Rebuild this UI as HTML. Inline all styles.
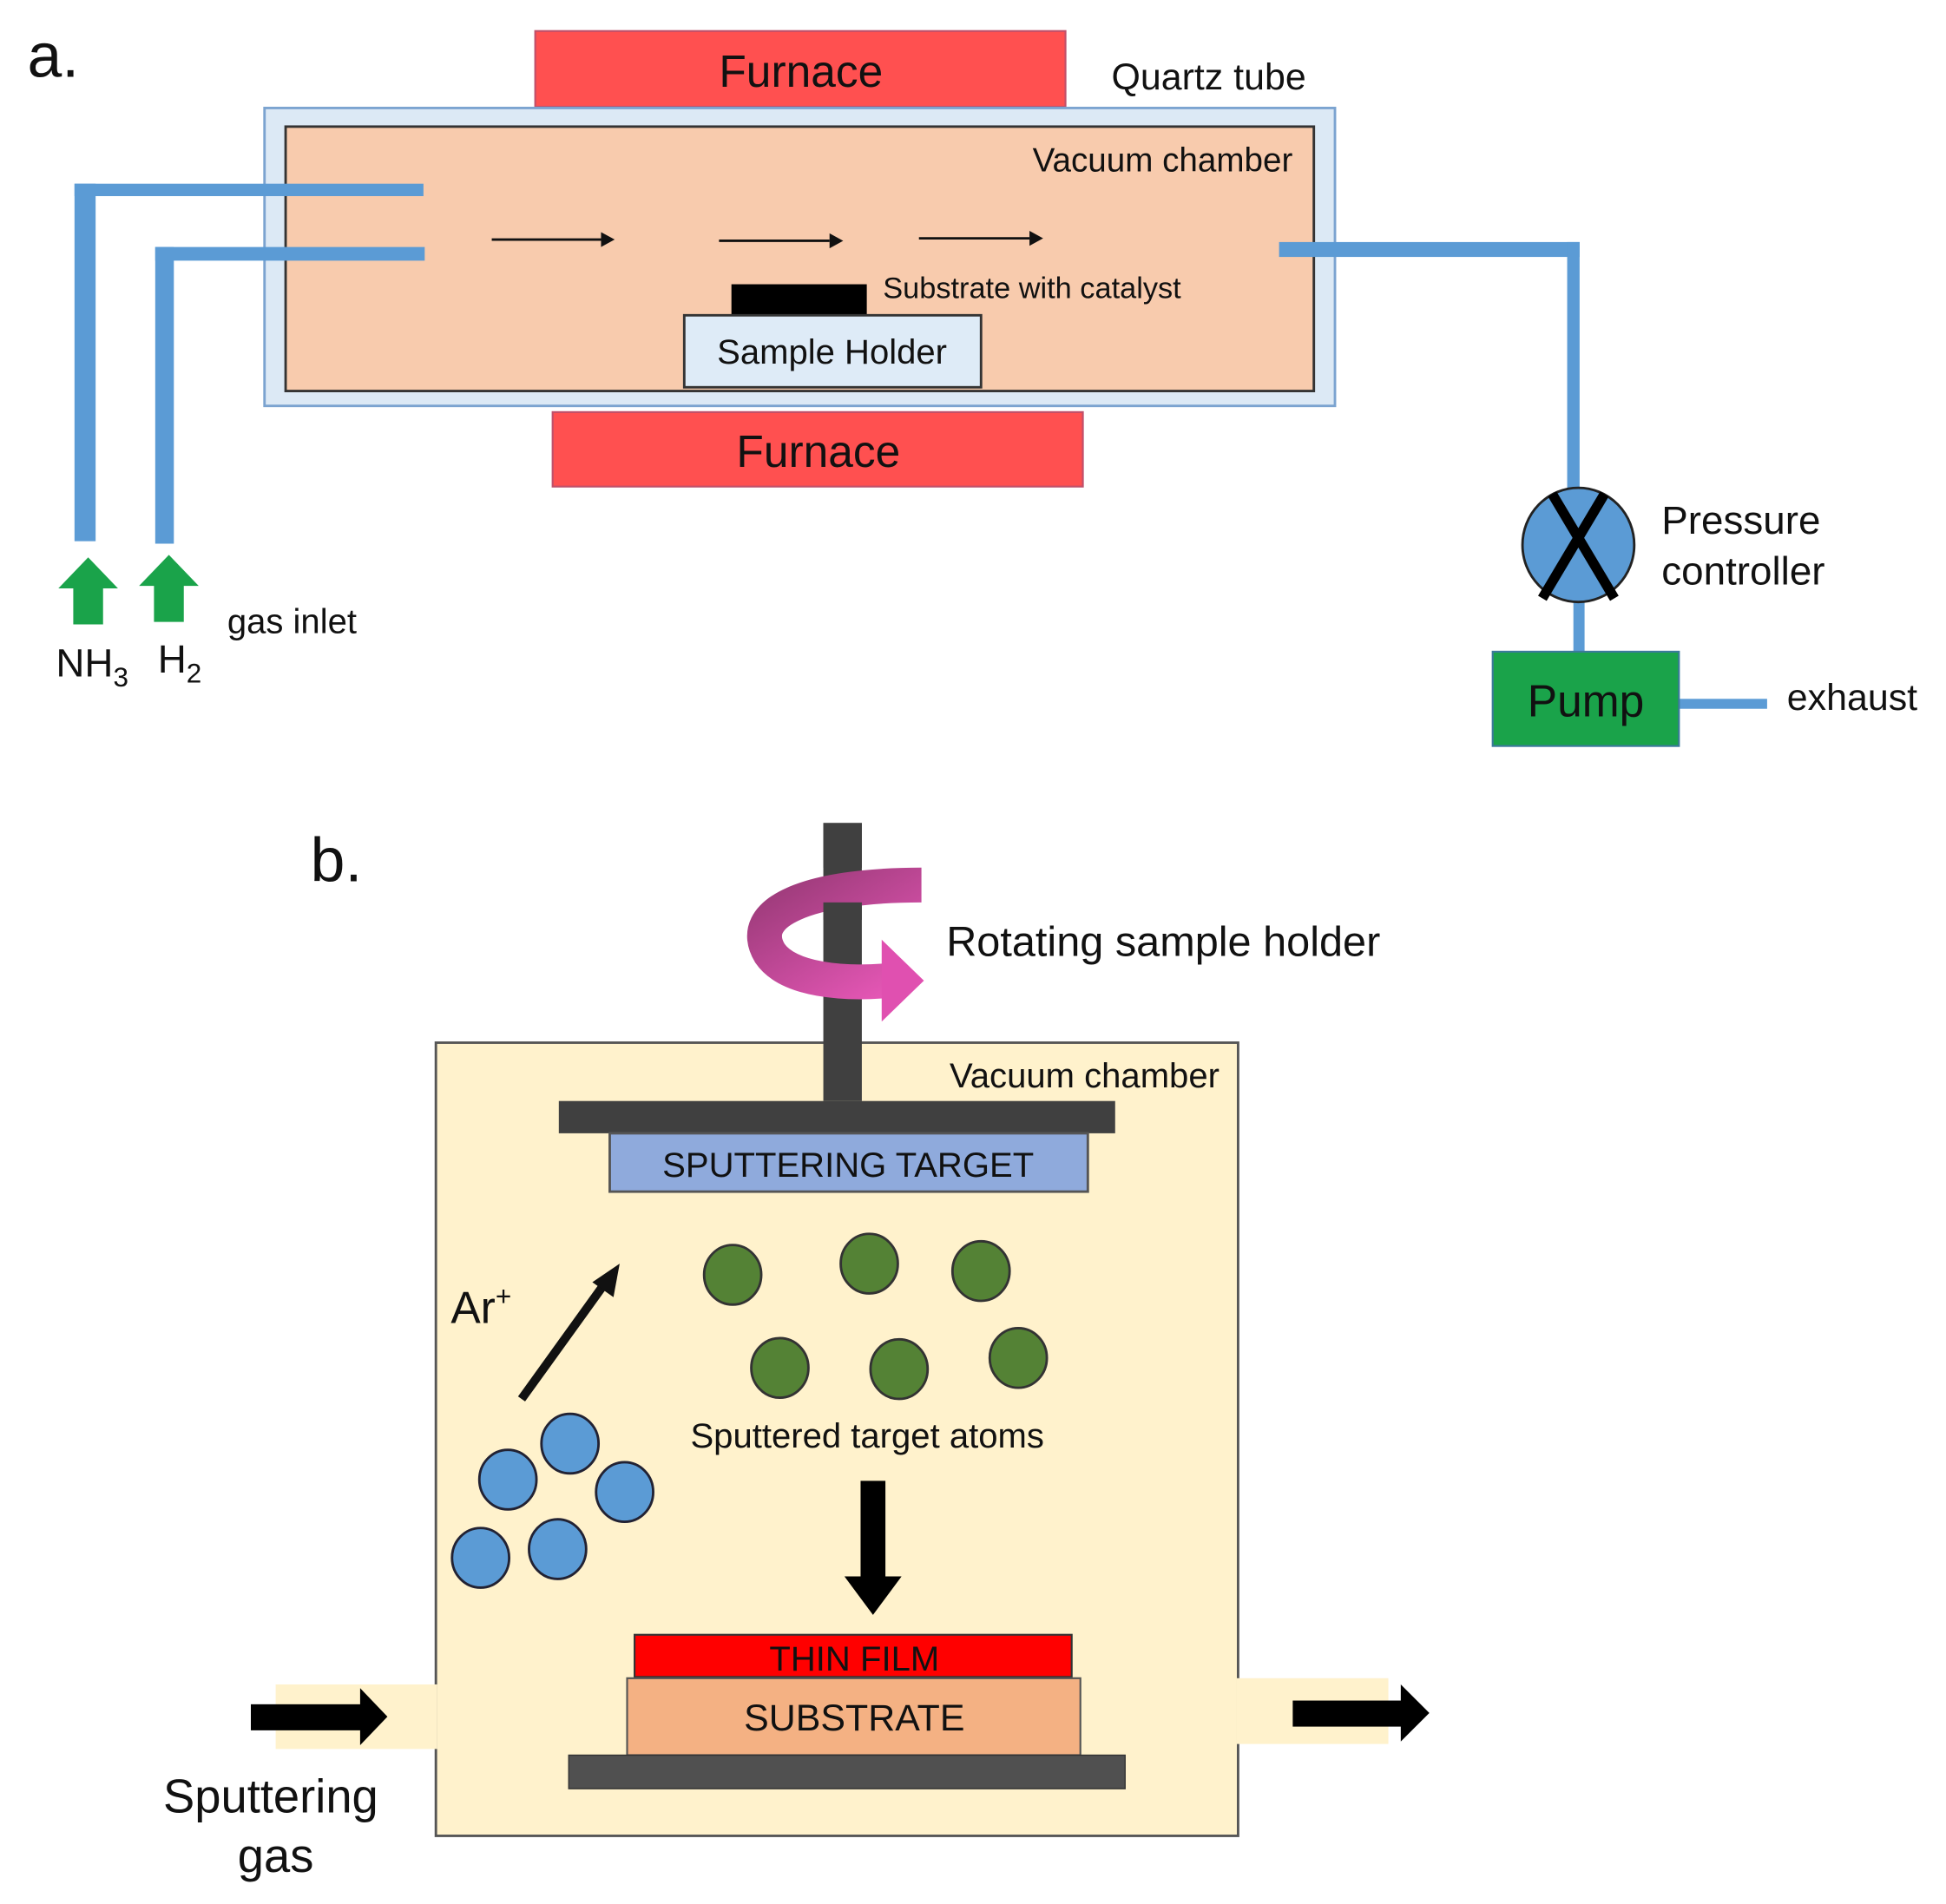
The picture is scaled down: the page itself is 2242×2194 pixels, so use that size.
<!DOCTYPE html>
<html><head><meta charset="utf-8"><style>
html,body{margin:0;padding:0;background:#fff;}
svg{display:block;}
text{font-family:"Liberation Sans",Arial,sans-serif;fill:#111;}
</style></head><body>
<svg width="2242" height="2194" viewBox="0 0 1560 1527" preserveAspectRatio="none" xmlns="http://www.w3.org/2000/svg">
<defs>
<linearGradient id="pk" x1="0" y1="0" x2="1" y2="1">
<stop offset="0" stop-color="#9a3a78"/><stop offset="1" stop-color="#e858b8"/>
</linearGradient>
</defs>
<g transform="scale(0.9955)">
<!-- a -->
<text x="22" y="62" font-size="50">a.</text>
<rect x="431" y="25" width="427" height="61" fill="#ff5050" stroke="#c0506a" stroke-width="1.5"/>
<text x="645" y="70" font-size="36" text-anchor="middle">Furnace</text>
<text x="895" y="72" font-size="30">Quartz tube</text>
<rect x="213" y="87" width="862" height="240" fill="#dce9f5" stroke="#7ba3d0" stroke-width="2"/>
<rect x="230" y="102" width="828" height="213" fill="#f8cbad" stroke="#333" stroke-width="2"/>
<text x="1041" y="138" font-size="27" text-anchor="end">Vacuum chamber</text>
<g fill="#5b9bd5">
<rect x="60" y="148" width="281" height="10"/>
<rect x="60" y="148" width="17" height="288"/>
<rect x="125" y="199" width="217" height="11"/>
<rect x="125" y="199" width="15" height="239"/>
<rect x="1030" y="195" width="242" height="12"/>
<rect x="1262" y="195" width="10" height="200"/>
<rect x="1267" y="480" width="9" height="46"/>
<rect x="1352" y="563" width="71" height="8"/>
</g>
<g stroke="#111" stroke-width="2">
<line x1="396" y1="193" x2="484" y2="193"/>
<line x1="579" y1="194" x2="668" y2="194"/>
<line x1="740" y1="192" x2="829" y2="192"/>
</g>
<g fill="#111">
<polygon points="484,187 495,193 484,199"/>
<polygon points="668,188 679,194 668,200"/>
<polygon points="829,186 840,192 829,198"/>
</g>
<rect x="589" y="229" width="109" height="25" fill="#000"/>
<rect x="551" y="254" width="239" height="58" fill="#deebf7" stroke="#333" stroke-width="2"/>
<text x="670" y="293" font-size="28" text-anchor="middle">Sample Holder</text>
<text x="711" y="240" font-size="24">Substrate with catalyst</text>
<rect x="445" y="332" width="427" height="60" fill="#ff5050" stroke="#c0506a" stroke-width="1.5"/>
<text x="659" y="376" font-size="36" text-anchor="middle">Furnace</text>
<ellipse cx="1271" cy="439" rx="45" ry="46" fill="#5b9bd5" stroke="#222" stroke-width="2"/>
<g stroke="#000" stroke-width="8"><line x1="1250" y1="398" x2="1300" y2="482"/><line x1="1292" y1="398" x2="1242" y2="482"/></g>
<text x="1338" y="430" font-size="32">Pressure</text>
<text x="1338" y="471" font-size="32">controller</text>
<rect x="1202" y="525" width="150" height="76" fill="#1aa34a" stroke="#3b7a9a" stroke-width="1.5"/>
<text x="1277" y="577" font-size="36" text-anchor="middle">Pump</text>
<text x="1439" y="572" font-size="30">exhaust</text>
<g fill="#1aa34a">
<polygon points="71,449 95,474 83,474 83,503 59,503 59,474 47,474"/>
<polygon points="136,447 160,472 148,472 148,501 124,501 124,472 112,472"/>
</g>
<text x="45" y="545" font-size="32">NH<tspan font-size="22" dy="8">3</tspan></text>
<text x="127" y="542" font-size="32">H<tspan font-size="22" dy="8">2</tspan></text>
<text x="183" y="510" font-size="28">gas inlet</text>

<!-- b -->
<text x="250" y="710" font-size="50">b.</text>
<rect x="351" y="840" width="646" height="639" fill="#fff2cc" stroke="#555" stroke-width="2"/>
<rect x="222" y="1357" width="130" height="52" fill="#fff2cc"/>
<rect x="996" y="1352" width="122" height="53" fill="#fff2cc"/>
<rect x="663" y="663" width="31" height="224" fill="#404040"/>
<path d="M742 713 C 650 713, 600 735, 620 768 C 635 790, 680 793, 715 790" fill="none" stroke="url(#pk)" stroke-width="28"/>
<polygon points="710,757 744,790 710,823" fill="#e050b0"/>
<rect x="663" y="663" width="31" height="36" fill="#404040"/>
<rect x="663" y="727" width="31" height="14" fill="#404040"/>
<text x="762" y="770" font-size="34">Rotating sample holder</text>
<text x="982" y="876" font-size="28" text-anchor="end">Vacuum chamber</text>
<rect x="450" y="887" width="448" height="26" fill="#404040"/>
<rect x="491" y="913" width="385" height="47" fill="#8faadc" stroke="#555" stroke-width="2"/>
<text x="683" y="948" font-size="28" text-anchor="middle" fill="#222">SPUTTERING TARGET</text>
<g fill="#548235" stroke="#333" stroke-width="2">
<ellipse cx="590" cy="1027" rx="23" ry="24"/>
<ellipse cx="700" cy="1018" rx="23" ry="24"/>
<ellipse cx="790" cy="1024" rx="23" ry="24"/>
<ellipse cx="628" cy="1102" rx="23" ry="24"/>
<ellipse cx="724" cy="1103" rx="23" ry="24"/>
<ellipse cx="820" cy="1094" rx="23" ry="24"/>
</g>
<g fill="#5b9bd5" stroke="#223" stroke-width="2">
<ellipse cx="459" cy="1163" rx="23" ry="24"/>
<ellipse cx="409" cy="1192" rx="23" ry="24"/>
<ellipse cx="503" cy="1202" rx="23" ry="24"/>
<ellipse cx="387" cy="1255" rx="23" ry="24"/>
<ellipse cx="449" cy="1248" rx="23" ry="24"/>
</g>
<line x1="420" y1="1127" x2="487" y2="1034" stroke="#111" stroke-width="7"/>
<polygon points="499,1018 494,1045 477,1033" fill="#111"/>
<text x="363" y="1066" font-size="36">Ar<tspan font-size="22" dy="-14">+</tspan></text>
<text x="556" y="1166" font-size="28">Sputtered target atoms</text>
<rect x="693" y="1193" width="20" height="78" fill="#000"/>
<polygon points="680,1270 726,1270 703,1301" fill="#000"/>
<rect x="511" y="1317" width="352" height="34" fill="#ff0000" stroke="#333" stroke-width="1.5"/>
<text x="688" y="1346" font-size="28" text-anchor="middle" fill="#333">THIN FILM</text>
<rect x="505" y="1352" width="365" height="62" fill="#f4b183" stroke="#555" stroke-width="1.5"/>
<text x="688" y="1394" font-size="30" text-anchor="middle" fill="#222">SUBSTRATE</text>
<rect x="458" y="1414" width="448" height="27" fill="#505050" stroke="#333" stroke-width="1"/>
<rect x="202" y="1373" width="90" height="21" fill="#000"/>
<polygon points="290,1360 312,1383 290,1406" fill="#000"/>
<rect x="1041" y="1370" width="89" height="21" fill="#000"/>
<polygon points="1128,1357 1151,1380 1128,1403" fill="#000"/>
<text x="218" y="1460" font-size="38" text-anchor="middle">Sputtering</text>
<text x="222" y="1508" font-size="38" text-anchor="middle">gas</text>
</g>
</svg>
</body></html>
